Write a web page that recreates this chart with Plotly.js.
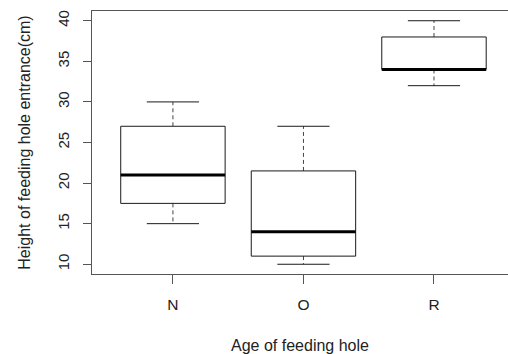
<!DOCTYPE html>
<html>
<head>
<meta charset="utf-8">
<script src="https://cdn.plot.ly/plotly-3.0.1.min.js"></script>
<style>html,body{margin:0;padding:0;background:#fff;}#chart{width:508px;height:354px;}</style>
</head>
<body>
<div id="chart"></div>
<script>
// Data
const categories = ['N', 'O', 'R'];
const lowerWhisker = [15, 10, 32];
const q1 = [17.5, 11, 34];
const medians = [21, 14, 34];
const q3 = [27, 21.5, 38];
const upperWhisker = [30, 27, 40];
const yTicks = [10, 15, 20, 25, 30, 35, 40];

const boxHalf = 0.4, capHalf = 0.2;
const boxX = [], boxY = [], medX = [], medY = [], whX = [], whY = [], capX = [], capY = [];
categories.forEach((c, k) => {
  const i = k + 1;
  boxX.push(i - boxHalf, i + boxHalf, i + boxHalf, i - boxHalf, i - boxHalf, null);
  boxY.push(q1[k], q1[k], q3[k], q3[k], q1[k], null);
  medX.push(i - boxHalf, i + boxHalf, null);
  medY.push(medians[k], medians[k], null);
  whX.push(i, i, null, i, i, null);
  whY.push(q3[k], upperWhisker[k], null, q1[k], lowerWhisker[k], null);
  capX.push(i - capHalf, i + capHalf, null, i - capHalf, i + capHalf, null);
  capY.push(upperWhisker[k], upperWhisker[k], null, lowerWhisker[k], lowerWhisker[k], null);
});

const lineCol = '#1a1a1a';
const traces = [
  {x: whX, y: whY, mode: 'lines', line: {color: '#444', width: 1, dash: '4px,3px'}, hoverinfo: 'skip'},
  {x: capX, y: capY, mode: 'lines', line: {color: lineCol, width: 1}, hoverinfo: 'skip'},
  {x: boxX, y: boxY, mode: 'lines', line: {color: lineCol, width: 1}, hoverinfo: 'skip'},
  {x: medX, y: medY, mode: 'lines', line: {color: '#000', width: 3}, hoverinfo: 'skip'}
];

const frameCol = '#555';
const layout = {
  width: 508, height: 354,
  margin: {l: 92, r: 0, t: 11, b: 80, pad: 0},
  paper_bgcolor: '#fff', plot_bgcolor: '#fff',
  showlegend: false,
  font: {family: 'Liberation Sans, Arial, sans-serif', color: '#222'},
  xaxis: {
    range: [0.38, 3.567], tickvals: [1, 2, 3], ticktext: categories,
    ticks: 'outside', ticklen: 9, tickcolor: frameCol, tickwidth: 1,
    showline: true, linecolor: frameCol, linewidth: 1, mirror: true,
    showgrid: false, zeroline: false,
    tickfont: {size: 15.5, color: '#222'}, ticklabelstandoff: 7,
    title: {text: 'Age of feeding hole', font: {size: 16, color: '#222'}, standoff: 28}
  },
  yaxis: {
    range: [8.8, 41.2], tickvals: yTicks, tickangle: -90,
    ticks: 'outside', ticklen: 8, tickcolor: frameCol, tickwidth: 1,
    showline: true, linecolor: frameCol, linewidth: 1,
    showgrid: false, zeroline: false,
    tickfont: {size: 15, color: '#222'}, ticklabelstandoff: 8,
    title: {text: 'Height of feeding hole entrance(cm)', font: {size: 16, color: '#222'}, standoff: 20}
  }
};

Plotly.newPlot('chart', traces, layout, {displayModeBar: false, staticPlot: true});
</script>
</body>
</html>
